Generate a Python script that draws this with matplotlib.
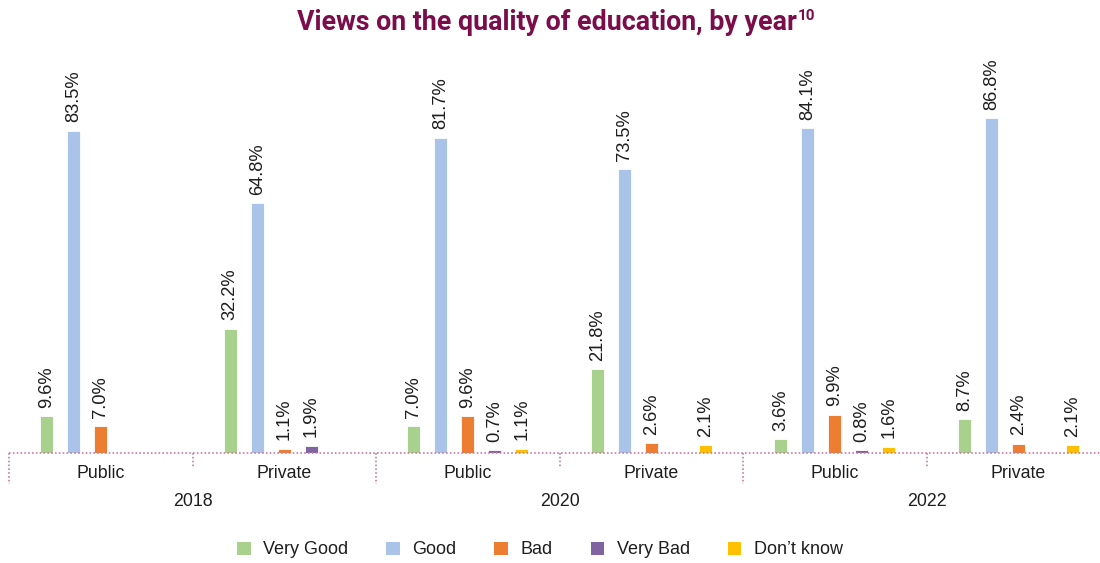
import numpy as np
import matplotlib
matplotlib.use("Agg")
import matplotlib.pyplot as plt
from matplotlib.patches import Patch
from matplotlib.lines import Line2D
import matplotlib.transforms as mtransforms

# ---- data -------------------------------------------------------------
years = ["2018", "2020", "2022"]
sectors = ["Public", "Private"]
series_names = ["Very Good", "Good", "Bad", "Very Bad", "Don\u2019t know"]
very_good = [9.6, 32.2, 7.0, 21.8, 3.6, 8.7]
good = [83.5, 64.8, 81.7, 73.5, 84.1, 86.8]
bad = [7.0, 1.1, 9.6, 2.6, 9.9, 2.4]
very_bad = [np.nan, 1.9, 0.7, np.nan, 0.8, np.nan]
dont_know = [np.nan, np.nan, 1.1, 2.1, 1.6, 2.1]
colors = ["#A9D18E", "#A9C4E8", "#ED7D31", "#8064A2", "#FFC000"]

series = [very_good, good, bad, very_bad, dont_know]

plt.rcParams["font.family"] = ["Liberation Sans", "DejaVu Sans"]

W, H = 1100, 563
fig = plt.figure(figsize=(W / 100, H / 100), dpi=100)

group_px = 183.5
left_px = 9
base_px = 453
px_per_unit = 3.86

x0 = -0.5 - left_px / group_px
x1 = x0 + W / group_px
ax = fig.add_axes([0, (H - base_px) / H, 1, 100 * px_per_unit / H])
ax.set_xlim(x0, x1)
ax.set_ylim(0, 100)
ax.axis("off")

n_groups = len(years) * len(sectors)
centers = np.arange(n_groups)
step = 27 / group_px
bar_w = 13 / group_px
text_col = "#1E1E1E"

for k, (vals, col) in enumerate(zip(series, colors)):
    xs = centers + (k - 2) * step
    for x, v in zip(xs, vals):
        if np.isnan(v):
            continue
        ax.bar(x, v, width=bar_w, color=col, edgecolor="white", linewidth=0.6, zorder=2)
        ax.annotate(f"{v:.1f}%", xy=(x, v), xytext=(0, 6), textcoords="offset points",
                    rotation=90, ha="center", va="bottom", fontsize=13.2, color=text_col)

# dotted axis and separators
line_col = "#C97AA4"
dots = (0, (1, 1.3))
ax.plot([-0.5, x1], [0, 0], color=line_col, linestyle=dots, lw=1.2,
        clip_on=False, zorder=3)
trans = mtransforms.blended_transform_factory(ax.transData, ax.transAxes)
unit_h = 100 * px_per_unit
for b in np.arange(-0.5, n_groups, 1.0):
    is_year = int(round(b + 0.5)) % 2 == 0
    depth = 31 if is_year else 15
    ax.add_line(Line2D([b, b], [0, -depth / unit_h], transform=trans, color=line_col,
                       linestyle=dots, lw=1.2, clip_on=False))

# category labels
for g in range(n_groups):
    ax.text(g, -20 / unit_h, sectors[g % 2], transform=trans, ha="center", va="center",
            fontsize=12.8, color=text_col)
for i, yr in enumerate(years):
    ax.text(2 * i + 0.5, -48 / unit_h, yr, transform=trans, ha="center", va="center",
            fontsize=12.8, color=text_col)

# title with superscript note marker
title_col = "#7A0D4A"
t = fig.text(547 / W, 1 - 22 / H, "Views on the quality of education, by year",
             ha="center", va="center", fontsize=19.3, fontweight="bold",
             color=title_col, family=["Roboto", "DejaVu Sans"])
fig.canvas.draw()
bb = t.get_window_extent()
fig.text(bb.x1 / W + 1 / W, bb.y1 / H, "10", ha="left", va="top", fontsize=11,
         fontweight="bold", color=title_col, family=["Roboto", "DejaVu Sans"])

# legend
handles = [Patch(facecolor=c, edgecolor="none") for c in colors]
fig.legend(handles, series_names, loc="center", bbox_to_anchor=(540 / W, 1 - 550 / H),
           ncol=5, frameon=False, fontsize=13, handlelength=0.75, handleheight=0.75,
           handletextpad=0.7, columnspacing=2.1, labelcolor=text_col)

fig.savefig("out.png", dpi=100)
